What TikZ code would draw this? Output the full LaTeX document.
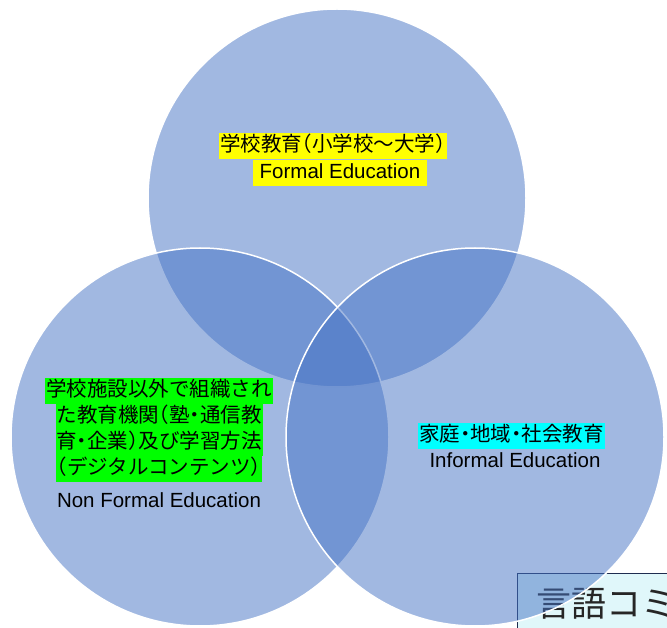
\documentclass[tikz,border=0pt]{standalone}
\usepackage{fontspec}
\setmainfont{Liberation Sans}
\newfontfamily\jp[RawFeature=+halt]{Noto Sans CJK JP}
\newfontfamily\jpbox{Noto Sans CJK JP}
\definecolor{circblue}{RGB}{68,114,196}
\definecolor{hlyellow}{RGB}{255,255,0}
\definecolor{hlgreen}{RGB}{0,255,0}
\definecolor{hlcyan}{RGB}{0,255,255}
\definecolor{boxfill}{RGB}{224,247,250}
\definecolor{boxline}{RGB}{31,45,80}
\tikzset{
  circ/.style={circle, minimum size=378pt, inner sep=0pt, fill=circblue, fill opacity=0.5, draw=white, draw opacity=1, line width=1.5pt},
  jpline/.style={font=\jp\fontsize{20.5}{24}\selectfont, inner xsep=1pt, inner ysep=0pt, text height=15pt, text depth=4pt, minimum height=26pt},
  enline/.style={font=\fontsize{20.5}{24}\selectfont, inner xsep=1pt, inner ysep=0pt, text height=15pt, text depth=4pt, minimum height=26pt},
  memo/.style={draw=boxline, line width=1.3pt, fill=boxfill, inner sep=0pt, minimum width=180pt, minimum height=80pt}
}
\begin{document}
\begin{tikzpicture}[x=1pt,y=-1pt]
\useasboundingbox (0,0) rectangle (667,628);
% memo box behind circles (cut off by the page)
\node[memo, anchor=north west] (memo) at (517,573) {};
\node[font=\jpbox\fontsize{35}{40}\selectfont, text=black!85, anchor=west, inner sep=0pt] (memotext) at (536,604) {言語コミ};
% circles
\node[circ] (formal) at (337,198) {};
\node[circ] (nonformal) at (200,437) {};
\node[circ] (informal) at (475,437) {};
% top labels
\node[jpline, fill=hlyellow, anchor=west] (f1) at (219,146.5) {学校教育（小学校～大学）\hspace{5pt}};
\node[enline, fill=hlyellow, inner xsep=7pt] (f2) at (340,173) {Formal Education};
% left labels
\node[jpline, fill=hlgreen] (n1) at (159,391) {学校施設以外で組織され};
\node[jpline, fill=hlgreen] (n2) at (159,417) {た教育機関（塾・通信教};
\node[jpline, fill=hlgreen] (n3) at (159,443) {育・企業）及び学習方法};
\node[jpline, fill=hlgreen] (n4) at (159,469) {（デジタルコンテンツ）};
\node[enline] (n5) at (159,502) {Non Formal Education};
% right labels
\node[jpline, fill=hlcyan, anchor=west] (i1) at (418,436) {家庭・地域・社会教育\hspace{7pt}};
\node[enline] (i2) at (515,462) {Informal Education};
\end{tikzpicture}
\end{document}
